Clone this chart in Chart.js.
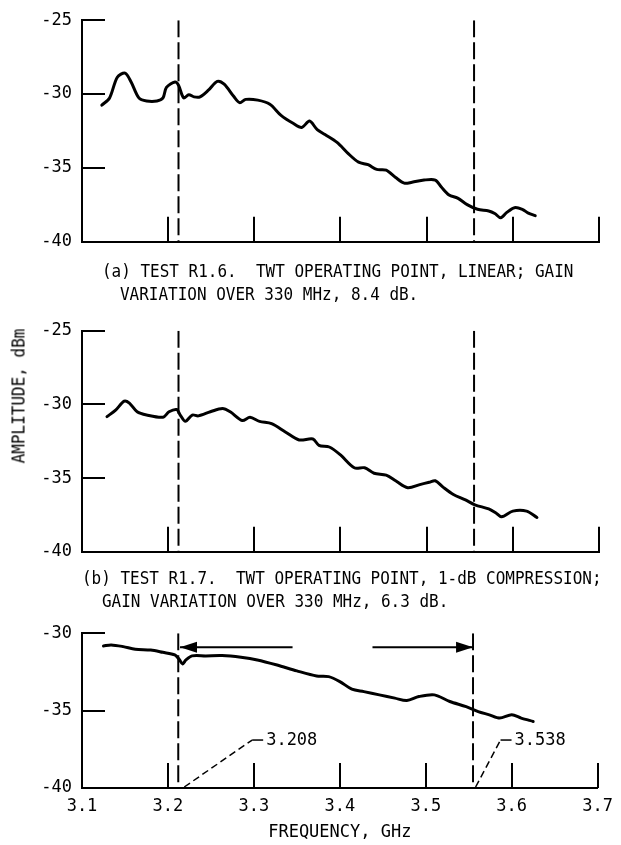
<!DOCTYPE html>
<html>
<head>
<meta charset="utf-8">
<script src="https://cdn.jsdelivr.net/npm/chart.js@4.4.1/dist/chart.umd.min.js"></script>
<style>
  html, body { margin: 0; padding: 0; background: #fff; }
  #page { position: relative; width: 621px; height: 845px; overflow: hidden;
          font-family: "DejaVu Sans Mono", monospace; font-size: 17px; color: #000; }
  canvas { position: absolute; left: 0; }
  .cap { position: absolute; white-space: pre; line-height: 23px; transform: scaleX(0.94); transform-origin: 0 50%; }
  #ylab { position: absolute; left: 19px; top: 396px; white-space: pre; line-height: 17px;
          transform: translate(-50%, -50%) rotate(-90deg) scaleX(0.94); }
</style>
</head>
<body>
<div id="page">
  <canvas id="panelA" width="621" height="262" style="top:0px"></canvas>
  <canvas id="panelB" width="621" height="272" style="top:300px"></canvas>
  <canvas id="panelC" width="621" height="235" style="top:610px"></canvas>
  <div class="cap" style="left:102px;top:260px">(a) TEST R1.6.  TWT OPERATING POINT, LINEAR; GAIN</div>
  <div class="cap" style="left:120px;top:283px">VARIATION OVER 330 MHz, 8.4 dB.</div>
  <div class="cap" style="left:82px;top:567px">(b) TEST R1.7.  TWT OPERATING POINT, 1-dB COMPRESSION;</div>
  <div class="cap" style="left:102px;top:590px">GAIN VARIATION OVER 330 MHz, 6.3 dB.</div>
  <div id="ylab">AMPLITUDE, dBm</div>
</div>
<script>
// frequency axis, GHz
const freqTicks = [3.1, 3.2, 3.3, 3.4, 3.5, 3.6, 3.7];

// (a) test R1.6, linear
const freqA = [3.123, 3.132, 3.141, 3.150, 3.157, 3.166, 3.175, 3.187, 3.194, 3.198, 3.208, 3.212, 3.218, 3.224,
  3.230, 3.237, 3.247, 3.257, 3.265, 3.276, 3.283, 3.290, 3.304, 3.318, 3.331, 3.345, 3.355, 3.364, 3.373, 3.382,
  3.396, 3.409, 3.421, 3.432, 3.442, 3.453, 3.464, 3.474, 3.483, 3.497, 3.510, 3.517, 3.526, 3.536, 3.547, 3.559,
  3.572, 3.579, 3.586, 3.593, 3.602, 3.611, 3.618, 3.626];
const ampA = [-30.75, -30.26, -28.86, -28.58, -29.18, -30.26, -30.47, -30.47, -30.26, -29.55, -29.18, -29.40, -30.26, -30.04,
  -30.19, -30.19, -29.72, -29.14, -29.33, -30.15, -30.58, -30.36, -30.41, -30.69, -31.44, -31.98, -32.26, -31.83, -32.41, -32.74,
  -33.27, -34.03, -34.61, -34.78, -35.10, -35.15, -35.65, -36.03, -35.97, -35.82, -35.82, -36.29, -36.83, -37.04, -37.48, -37.80,
  -37.91, -38.08, -38.38, -38.01, -37.69, -37.80, -38.06, -38.23];

// (b) test R1.7, 1-dB compression
const freqB = [3.129, 3.139, 3.149, 3.155, 3.164, 3.175, 3.194, 3.201, 3.210, 3.214, 3.220, 3.228, 3.235, 3.249, 3.263,
  3.272, 3.286, 3.295, 3.306, 3.320, 3.336, 3.352, 3.368, 3.375, 3.387, 3.400, 3.416, 3.428, 3.439, 3.453, 3.464,
  3.478, 3.492, 3.503, 3.510, 3.519, 3.531, 3.545, 3.556, 3.572, 3.580, 3.587, 3.600, 3.616, 3.628];
const ampB = [-30.83, -30.39, -29.78, -29.91, -30.50, -30.72, -30.87, -30.50, -30.35, -30.72, -31.15, -30.72, -30.78, -30.50, -30.28,
  -30.50, -31.09, -30.87, -31.15, -31.30, -31.87, -32.41, -32.35, -32.78, -32.89, -33.43, -34.30, -34.30, -34.67, -34.80, -35.18,
  -35.65, -35.44, -35.28, -35.18, -35.61, -36.11, -36.48, -36.81, -37.09, -37.35, -37.63, -37.24, -37.24, -37.67];

// (c) third sweep
const freqC = [3.125, 3.134, 3.148, 3.162, 3.180, 3.194, 3.208, 3.213, 3.217, 3.221, 3.228, 3.244, 3.263, 3.285, 3.304,
  3.327, 3.350, 3.373, 3.387, 3.400, 3.414, 3.428, 3.446, 3.464, 3.478, 3.492, 3.510, 3.528, 3.547, 3.561, 3.574,
  3.586, 3.600, 3.611, 3.625];
const ampC = [-30.82, -30.75, -30.86, -31.03, -31.08, -31.23, -31.40, -31.68, -31.98, -31.72, -31.46, -31.46, -31.44, -31.55, -31.72,
  -32.05, -32.43, -32.76, -32.80, -33.12, -33.61, -33.77, -33.98, -34.19, -34.35, -34.09, -33.98, -34.41, -34.74, -35.06, -35.27,
  -35.48, -35.27, -35.48, -35.70];

// band edges (dashed verticals) and the arrows between them
const bandEdges = [3.212, 3.555];
const arrowTails = [3.345, 3.438];
const arrowTips = [3.214, 3.555];
const arrowAmp = -30.9;
const calloutText = ['3.208', '3.538'];

const FONT = { family: 'DejaVu Sans Mono', size: 17 };
const toPts = (xs, ys) => xs.map((x, i) => ({ x: x, y: ys[i] }));

// inside tick marks, drawn off the chart's own scales
const innerTicks = {
  id: 'innerTicks',
  afterDraw(chart) {
    const { ctx, chartArea: a, scales: { x, y } } = chart;
    ctx.save();
    ctx.strokeStyle = '#000';
    ctx.lineWidth = 2;
    ctx.beginPath();
    x.ticks.forEach((t) => {
      if (t.value <= x.min + 1e-6) return;
      const px = Math.round(x.getPixelForValue(t.value));
      ctx.moveTo(px, a.bottom);
      ctx.lineTo(px, a.bottom - 25);
    });
    y.ticks.forEach((t) => {
      if (t.value <= y.min + 1e-6) return;
      const py = Math.round(y.getPixelForValue(t.value));
      ctx.moveTo(a.left, py);
      ctx.lineTo(a.left + 23, py);
    });
    ctx.stroke();
    ctx.restore();
  }
};

// arrowheads and the 3.208 / 3.538 callouts on panel (c)
const callouts = {
  id: 'callouts',
  afterDatasetsDraw(chart, args, opts) {
    if (!opts.enabled) return;
    const { ctx, scales: { x, y } } = chart;
    ctx.save();
    ctx.fillStyle = '#000';
    arrowTips.forEach((tip, i) => {
      const tx = x.getPixelForValue(tip), ty = y.getPixelForValue(arrowAmp);
      const dir = tip < arrowTails[i] ? 1 : -1;
      ctx.beginPath();
      ctx.moveTo(tx, ty);
      ctx.lineTo(tx + dir * 17, ty - 5.5);
      ctx.lineTo(tx + dir * 17, ty + 5.5);
      ctx.closePath();
      ctx.fill();
    });
    ctx.strokeStyle = '#000';
    ctx.font = '17px "DejaVu Sans Mono"';
    ctx.textBaseline = 'middle';
    ctx.textAlign = 'left';
    calloutText.forEach((t, i) => {
      const x0 = x.getPixelForValue(opts.base[i]), y0 = y.getPixelForValue(y.min) - 1;
      const x1 = x.getPixelForValue(opts.knee[i]), y1 = y.getPixelForValue(opts.kneeAmp);
      ctx.lineWidth = 1.5;
      ctx.setLineDash([7, 4]);
      ctx.beginPath();
      ctx.moveTo(x0, y0);
      ctx.lineTo(x1, y1);
      ctx.stroke();
      ctx.setLineDash([]);
      ctx.beginPath();
      ctx.moveTo(x1, y1);
      ctx.lineTo(x1 + 11, y1);
      ctx.stroke();
      ctx.fillText(t, x1 + 14, y1 + 1);
    });
    ctx.restore();
  }
};

function curve(xs, ys) {
  return { data: toPts(xs, ys), borderColor: '#000', borderWidth: 3, pointRadius: 0,
           tension: 0.3, borderJoinStyle: 'round', borderCapStyle: 'round' };
}

function edgeLines(yTop, yBottom) {
  return bandEdges.map((f) => ({
    data: [{ x: f, y: yTop }, { x: f, y: yBottom }],
    borderColor: '#000', borderWidth: 2, borderDash: [17, 5], pointRadius: 0, tension: 0
  }));
}

function panelOptions(yMin, yMax, padTop, bottomH, showX, calloutOpts) {
  return {
    responsive: false,
    animation: false,
    events: [],
    layout: { padding: { top: padTop, left: 0, right: 22, bottom: 0 } },
    plugins: {
      legend: { display: false },
      tooltip: { enabled: false },
      callouts: calloutOpts || { enabled: false }
    },
    scales: {
      x: {
        type: 'linear', min: freqTicks[0], max: freqTicks[freqTicks.length - 1],
        afterBuildTicks: (s) => { s.ticks = freqTicks.map((v) => ({ value: v })); },
        ticks: { display: showX, padding: 8, color: '#000', font: FONT, maxRotation: 0, autoSkip: false,
                 callback: (v) => Number(v).toFixed(1) },
        grid: { display: false, drawTicks: false },
        border: { display: true, color: '#000', width: 2 },
        title: { display: showX, text: 'FREQUENCY, GHz', color: '#000', font: FONT, padding: { top: 0, bottom: 2 } },
        afterFit: (s) => { s.height = bottomH; }
      },
      y: {
        min: yMin, max: yMax,
        ticks: { stepSize: 5, padding: 10, color: '#000', font: FONT },
        grid: { display: false, drawTicks: false },
        border: { display: true, color: '#000', width: 2 },
        afterFit: (s) => { s.width = 82; }
      }
    }
  };
}

new Chart(document.getElementById('panelA'), {
  type: 'line',
  data: { datasets: [curve(freqA, ampA)].concat(edgeLines(-25, -40)) },
  options: panelOptions(-40, -25, 17, 13, false),
  plugins: [innerTicks, callouts]
});

new Chart(document.getElementById('panelB'), {
  type: 'line',
  data: { datasets: [curve(freqB, ampB)].concat(edgeLines(-25, -40)) },
  options: panelOptions(-40, -25, 30.7, 11.3, false),
  plugins: [innerTicks, callouts]
});

const arrowSets = arrowTails.map((t, i) => ({
  data: [{ x: t, y: arrowAmp }, { x: arrowTips[i], y: arrowAmp }],
  borderColor: '#000', borderWidth: 2, pointRadius: 0, tension: 0
}));

new Chart(document.getElementById('panelC'), {
  type: 'line',
  data: { datasets: [curve(freqC, ampC)].concat(edgeLines(-30, -40), arrowSets) },
  options: panelOptions(-40, -30, 23.3, 57, true,
    { enabled: true, base: [3.219, 3.558], knee: [3.298, 3.587], kneeAmp: -36.9 }),
  plugins: [innerTicks, callouts]
});
</script>
</body>
</html>
